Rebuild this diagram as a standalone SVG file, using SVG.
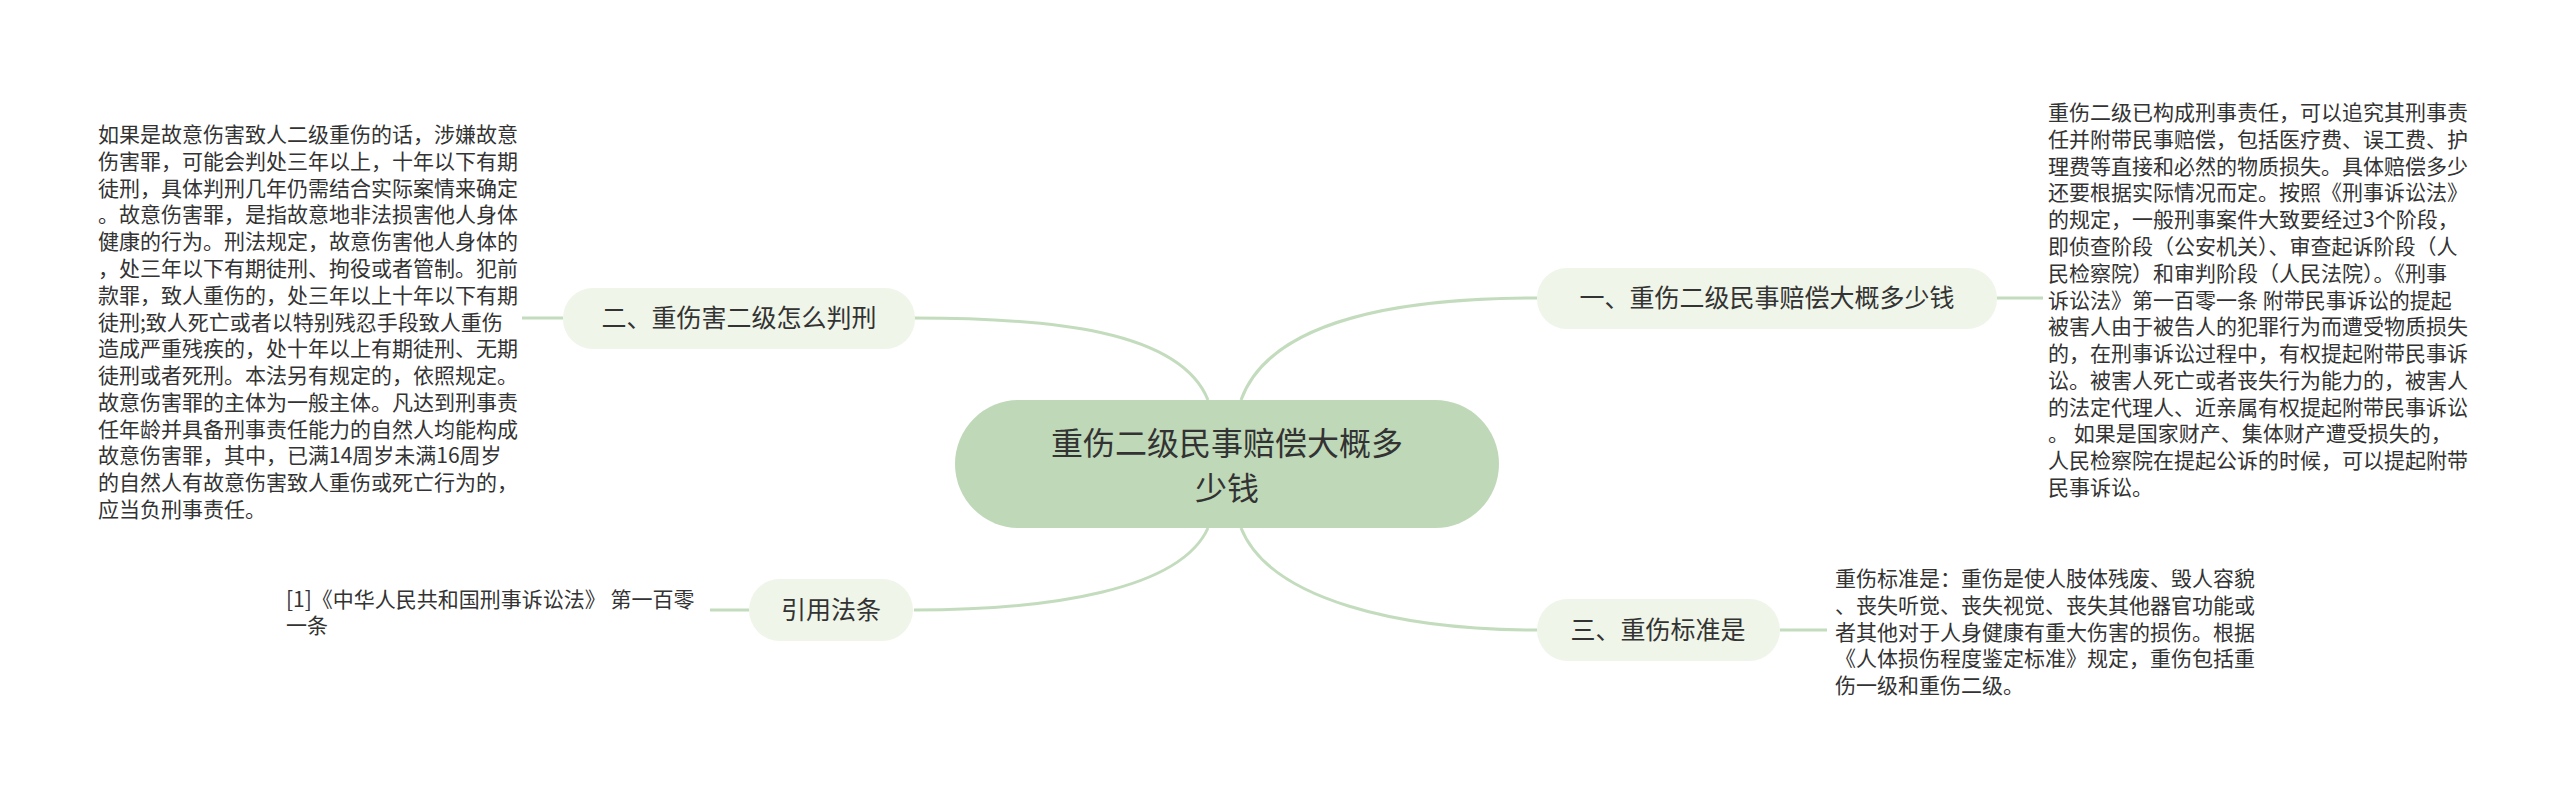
<svg xmlns="http://www.w3.org/2000/svg" width="2560" height="795" viewBox="0 0 2560 795">
<style>
.t{font-family:"Noto Sans CJK SC","Liberation Sans",sans-serif;fill:#333}
.s{font-size:21px}
.b{font-size:25px}
.c{font-size:32px}
.n{fill:#eff5e8}
.l{fill:none;stroke:#c4dcbe;stroke-width:3}
</style>
<rect width="2560" height="795" fill="#fff"/>
<g id="connectors">
<path class="l" d="M1208 400 C1180 330 1050 318 914 318"/>
<path class="l" d="M1208 528 C1180 590 1050 610 914 610"/>
<path class="l" d="M1241 400 C1270 320 1400 298 1537 298"/>
<path class="l" d="M1241 528 C1270 600 1400 630 1537 630"/>
<path class="l" d="M522 318 H563 M710 610 H749 M1997 298 H2043 M1780 630 H1827"/>
</g>
<g id="center">
<rect x="955" y="400" width="544" height="128" rx="64" fill="#bfd8b8"/>
<text class="t c" text-anchor="middle"><tspan x="1227" y="455">重伤二级民事赔偿大概多</tspan><tspan x="1227" y="500">少钱</tspan></text>
</g>
<g id="n2">
<rect class="n" x="563" y="288" width="352" height="61" rx="30"/>
<text class="t b" x="739" y="327" text-anchor="middle">二、重伤害二级怎么判刑</text>
</g>
<g id="n2text">
<text class="t s"><tspan x="98" y="142">如果是故意伤害致人二级重伤的话，涉嫌故意</tspan><tspan x="98" y="169">伤害罪，可能会判处三年以上，十年以下有期</tspan><tspan x="98" y="196">徒刑，具体判刑几年仍需结合实际案情来确定</tspan><tspan x="98" y="222">。故意伤害罪，是指故意地非法损害他人身体</tspan><tspan x="98" y="249">健康的行为。刑法规定，故意伤害他人身体的</tspan><tspan x="98" y="276">，处三年以下有期徒刑、拘役或者管制。犯前</tspan><tspan x="98" y="303">款罪，致人重伤的，处三年以上十年以下有期</tspan><tspan x="98" y="330">徒刑;致人死亡或者以特别残忍手段致人重伤</tspan><tspan x="98" y="356">造成严重残疾的，处十年以上有期徒刑、无期</tspan><tspan x="98" y="383">徒刑或者死刑。本法另有规定的，依照规定。</tspan><tspan x="98" y="410">故意伤害罪的主体为一般主体。凡达到刑事责</tspan><tspan x="98" y="437">任年龄并具备刑事责任能力的自然人均能构成</tspan><tspan x="98" y="463">故意伤害罪，其中，已满14周岁未满16周岁</tspan><tspan x="98" y="490">的自然人有故意伤害致人重伤或死亡行为的，</tspan><tspan x="98" y="517">应当负刑事责任。</tspan></text>
</g>
<g id="n4">
<rect class="n" x="749" y="579" width="164" height="62" rx="31"/>
<text class="t b" x="831" y="619" text-anchor="middle">引用法条</text>
</g>
<g id="n4text">
<text class="t s"><tspan x="286" y="607">[1]《中华人民共和国刑事诉讼法》 第一百零</tspan><tspan x="286" y="633">一条</tspan></text>
</g>
<g id="n1">
<rect class="n" x="1537" y="268" width="460" height="61" rx="30"/>
<text class="t b" x="1767" y="307" text-anchor="middle">一、重伤二级民事赔偿大概多少钱</text>
</g>
<g id="n1text">
<text class="t s"><tspan x="2048" y="120">重伤二级已构成刑事责任，可以追究其刑事责</tspan><tspan x="2048" y="147">任并附带民事赔偿，包括医疗费、误工费、护</tspan><tspan x="2048" y="174">理费等直接和必然的物质损失。具体赔偿多少</tspan><tspan x="2048" y="200">还要根据实际情况而定。按照《刑事诉讼法》</tspan><tspan x="2048" y="227">的规定，一般刑事案件大致要经过3个阶段，</tspan><tspan x="2048" y="254">即侦查阶段（公安机关）、审查起诉阶段（人</tspan><tspan x="2048" y="281">民检察院）和审判阶段（人民法院）。《刑事</tspan><tspan x="2048" y="308">诉讼法》第一百零一条 附带民事诉讼的提起</tspan><tspan x="2048" y="334">被害人由于被告人的犯罪行为而遭受物质损失</tspan><tspan x="2048" y="361">的，在刑事诉讼过程中，有权提起附带民事诉</tspan><tspan x="2048" y="388">讼。被害人死亡或者丧失行为能力的，被害人</tspan><tspan x="2048" y="415">的法定代理人、近亲属有权提起附带民事诉讼</tspan><tspan x="2048" y="441">。 如果是国家财产、集体财产遭受损失的，</tspan><tspan x="2048" y="468">人民检察院在提起公诉的时候，可以提起附带</tspan><tspan x="2048" y="495">民事诉讼。</tspan></text>
</g>
<g id="n3">
<rect class="n" x="1537" y="599" width="243" height="62" rx="31"/>
<text class="t b" x="1658" y="639" text-anchor="middle">三、重伤标准是</text>
</g>
<g id="n3text">
<text class="t s"><tspan x="1835" y="586">重伤标准是：重伤是使人肢体残废、毁人容貌</tspan><tspan x="1835" y="613">、丧失听觉、丧失视觉、丧失其他器官功能或</tspan><tspan x="1835" y="640">者其他对于人身健康有重大伤害的损伤。根据</tspan><tspan x="1835" y="666">《人体损伤程度鉴定标准》规定，重伤包括重</tspan><tspan x="1835" y="693">伤一级和重伤二级。</tspan></text>
</g>
</svg>
